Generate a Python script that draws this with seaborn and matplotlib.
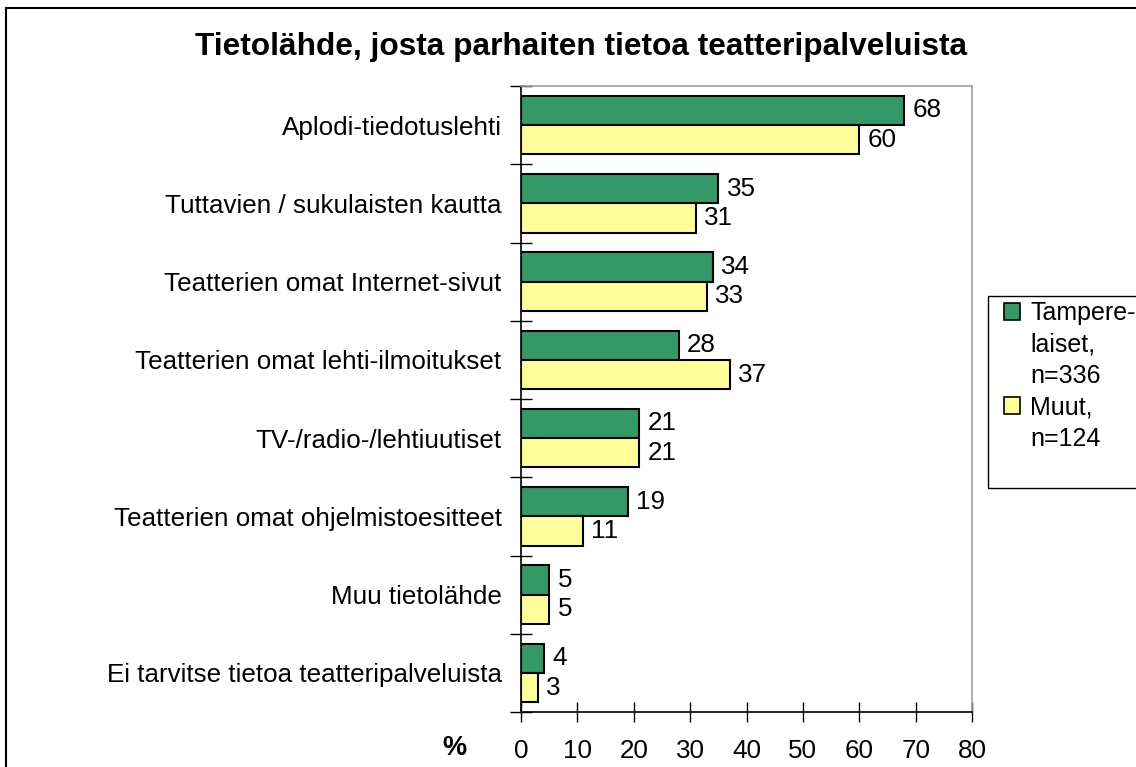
import numpy as np
import pandas as pd
import matplotlib.pyplot as plt
import seaborn as sns
from matplotlib.patches import Rectangle

kategoriat = [
    "Aplodi-tiedotuslehti",
    "Tuttavien / sukulaisten kautta",
    "Teatterien omat Internet-sivut",
    "Teatterien omat lehti-ilmoitukset",
    "TV-/radio-/lehtiuutiset",
    "Teatterien omat ohjelmistoesitteet",
    "Muu tietolähde",
    "Ei tarvitse tietoa teatteripalveluista",
]
tamperelaiset = [68, 35, 34, 28, 21, 19, 5, 4]
muut = [60, 31, 33, 37, 21, 11, 5, 3]
ryhmat = ["Tamperelaiset", "Muut"]
legend_rivit = [["Tampere-", "laiset,", "n=336"], ["Muut,", "n=124"]]
x_ticks = [0, 10, 20, 30, 40, 50, 60, 70, 80]

df = pd.DataFrame({
    "kategoria": kategoriat * 2,
    "osuus": tamperelaiset + muut,
    "ryhma": [ryhmat[0]] * len(kategoriat) + [ryhmat[1]] * len(kategoriat),
})

sns.set_style("white")
plt.rcParams['font.family'] = ['Liberation Sans', 'DejaVu Sans']
plt.rcParams['text.color'] = 'black'
plt.rcParams['xtick.color'] = 'black'
plt.rcParams['ytick.color'] = 'black'

fs = 18.7

fig = plt.figure(figsize=(11.36, 7.67), dpi=100)
ax = fig.add_axes([521 / 1136, 1 - 712 / 767, 451 / 1136, 626 / 767])

sns.barplot(data=df, y="kategoria", x="osuus", hue="ryhma", orient="h",
            palette=["#339966", "#ffff99"], saturation=1, edgecolor="black",
            linewidth=1.5, width=0.75, ax=ax)

for cont in ax.containers:
    ax.bar_label(cont, padding=6, fontsize=fs)

ax.set_xlim(0, 80)
ax.set_ylim(len(kategoriat) - 0.5, -0.5)
ax.set_xticks(x_ticks)
ax.set_xlabel("")
ax.set_ylabel("")
ax.set_yticks(range(len(kategoriat)))
ax.set_yticklabels(kategoriat)
ax.set_yticks(np.arange(len(kategoriat) + 1) - 0.5, minor=True)
ax.tick_params(axis="y", which="major", length=0, pad=14, labelsize=fs)
ax.tick_params(axis="y", which="minor", direction="inout", length=16, width=1, color="black", left=True)
ax.tick_params(axis="x", direction="inout", length=15, width=1, color="black", bottom=True, pad=12, labelsize=fs)

for s in ["left", "bottom"]:
    ax.spines[s].set_color("black")
    ax.spines[s].set_linewidth(1.2)
for s in ["top", "right"]:
    ax.spines[s].set_color("#a0a0a0")
    ax.spines[s].set_linewidth(1.2)

# legend: handle only on the first line of each entry
handles, _ = ax.get_legend_handles_labels()
ax.legend_.remove()
leg_handles, leg_labels = [], []
for h, rivit in zip(handles, legend_rivit):
    for i, r in enumerate(rivit):
        if i == 0:
            leg_handles.append(Rectangle((0, 0), 1, 1, facecolor=h.get_facecolor(), edgecolor="black", linewidth=1.2))
        else:
            leg_handles.append(Rectangle((0, 0), 1, 1, fill=False, edgecolor="none"))
        leg_labels.append(r)
leg = fig.legend(leg_handles, leg_labels, loc="upper left",
                 bbox_to_anchor=(1004 / 1136, 1 - 301 / 767),
                 fontsize=18, frameon=False,
                 handlelength=0.65, handleheight=0.65, handletextpad=0.4,
                 borderpad=0, labelspacing=0.3, borderaxespad=0)
fig.patches.append(Rectangle((988 / 1136, 1 - 488 / 767), 0.2, 192 / 767, transform=fig.transFigure,
                             fill=False, edgecolor="black", linewidth=1.0))

fig.text(581 / 1136, 1 - 47 / 767, "Tietolähde, josta parhaiten tietoa teatteripalveluista",
         ha="center", va="center", fontsize=22.8, fontweight="bold")
fig.text(454 / 1136, 1 - 748 / 767, "%", ha="center", va="center", fontsize=19.5, fontweight="bold")

fig.patches.append(Rectangle((6 / 1136, -0.1), 1.2, 1 - 8 / 767 + 0.1, transform=fig.transFigure,
                             fill=False, edgecolor="black", linewidth=1.5))

fig.savefig("out.png", dpi=100)
